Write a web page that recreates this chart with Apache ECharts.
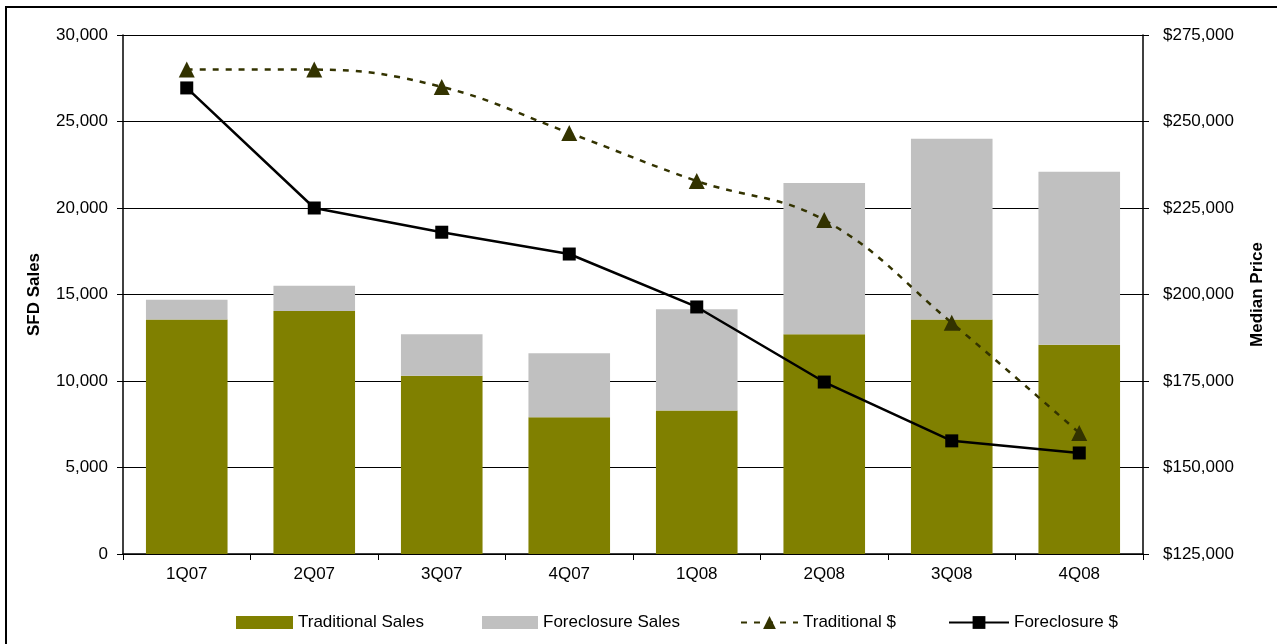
<!DOCTYPE html>
<html>
<head>
<meta charset="utf-8">
<script src="https://cdn.jsdelivr.net/npm/echarts@6/dist/echarts.min.js"></script>
<style>
  html, body { margin: 0; padding: 0; background: #fff; overflow: hidden; }
  #frame { position: absolute; left: 5px; top: 6px; width: 1290px; height: 660px; border-left: 2px solid #000; border-top: 2px solid #000; }
  #chart { position: absolute; left: 0; top: 0; width: 1277px; height: 644px; }
</style>
</head>
<body>
<div id="frame"></div>
<div id="chart"></div>
<script>
// quarters
const quarters = ['1Q07', '2Q07', '3Q07', '4Q07', '1Q08', '2Q08', '3Q08', '4Q08']
// SFD sales (stacked)
const traditionalSales = [13550, 14050, 10300, 7900, 8300, 12700, 13550, 12100]
const foreclosureSales = [1150, 1450, 2400, 3700, 5850, 8750, 10450, 10000]
// median price
const traditionalPrice = [265000, 265000, 260000, 246700, 232800, 221500, 191800, 160000]
const foreclosurePrice = [259700, 225000, 218000, 211700, 196400, 174700, 157700, 154200]

const font = '"Liberation Sans", Arial, sans-serif'
const chart = echarts.init(document.getElementById('chart'), null, { renderer: 'canvas' })

// 图例公共配置
const legendBase = {
  top: 609,
  itemHeight: 13,
  textStyle: { fontFamily: font, fontSize: 17, color: '#000' },
}
// 折线图例 - 标记稍大
const lineLegend = { ...legendBase, top: 609, itemHeight: 16 }

chart.setOption({
  animation: false,
  textStyle: { fontFamily: font },
  grid: { left: 123, right: 134, top: 35, bottom: 90 },
  legend: [
    { ...legendBase, left: 231, itemWidth: 57, data: [{ name: 'Traditional Sales', icon: 'rect' }] },
    { ...legendBase, left: 477, itemWidth: 56, data: [{ name: 'Foreclosure Sales', icon: 'rect' }] },
    { ...lineLegend, left: 735, itemWidth: 57, data: ['Traditional $'] },
    { ...lineLegend, left: 943, itemWidth: 60, data: ['Foreclosure $'] },
  ],
  xAxis: {
    type: 'category',
    data: quarters,
    axisLine: { lineStyle: { color: '#000', width: 1.5 } },
    axisTick: { show: true, length: 6, lineStyle: { color: '#000' } },
    axisLabel: { color: '#000', fontSize: 17, margin: 12 },
  },
  yAxis: [
    {
      type: 'value',
      min: 0,
      max: 30000,
      interval: 5000,
      name: 'SFD Sales',
      nameLocation: 'middle',
      nameRotate: 90,
      nameGap: 80,
      nameTextStyle: { fontWeight: 'bold', fontSize: 17, color: '#000' },
      axisLine: { show: true, lineStyle: { color: '#000', width: 1.5 } },
      axisTick: { show: true, length: 6, lineStyle: { color: '#000' } },
      axisLabel: {
        color: '#000', fontSize: 17, margin: 15,
        formatter: v => v.toLocaleString('en-US'),
      },
      splitLine: { lineStyle: { color: '#000', width: 1 } },
    },
    {
      type: 'value',
      min: 125000,
      max: 275000,
      interval: 25000,
      name: 'Median Price',
      nameLocation: 'middle',
      nameRotate: 90,
      nameGap: 106,
      nameTextStyle: { fontWeight: 'bold', fontSize: 17, color: '#000' },
      axisLine: { show: true, lineStyle: { color: '#000', width: 1.5 } },
      axisTick: { show: true, length: 6, lineStyle: { color: '#000' } },
      axisLabel: {
        color: '#000', fontSize: 17, margin: 20,
        formatter: v => '$' + v.toLocaleString('en-US'),
      },
      splitLine: { show: false },
    },
  ],
  series: [
    {
      name: 'Traditional Sales',
      type: 'bar',
      stack: 'sales',
      barCategoryGap: '36%',
      itemStyle: { color: '#808000' },
      data: traditionalSales,
    },
    {
      name: 'Foreclosure Sales',
      type: 'bar',
      stack: 'sales',
      itemStyle: { color: '#c0c0c0' },
      data: foreclosureSales,
    },
    {
      name: 'Traditional $',
      type: 'line',
      yAxisIndex: 1,
      smooth: 0.4,
      symbol: 'triangle',
      symbolSize: 16,
      itemStyle: { color: '#333300' },
      lineStyle: { color: '#333300', width: 2.5, type: [6, 7] },
      data: traditionalPrice,
    },
    {
      name: 'Foreclosure $',
      type: 'line',
      yAxisIndex: 1,
      symbol: 'rect',
      symbolSize: 13,
      itemStyle: { color: '#000' },
      lineStyle: { color: '#000', width: 2.5 },
      data: foreclosurePrice,
    },
  ],
})
</script>
</body>
</html>
